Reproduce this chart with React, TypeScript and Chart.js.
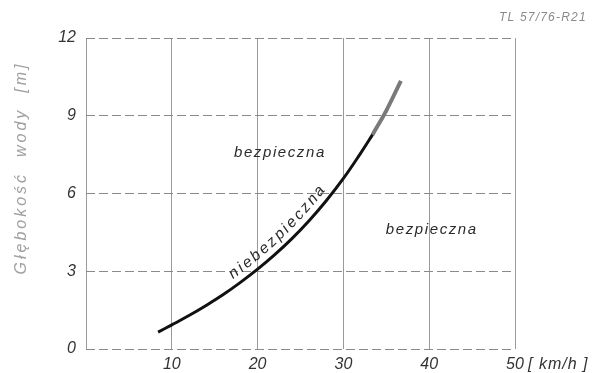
import React, { useEffect, useRef } from "react";
import { Chart, registerables } from "chart.js";

Chart.register(...registerables);

// Speed [km/h]
const curveSpeed = [8.4, 10, 12, 14, 16, 18, 20, 22, 24, 26, 28, 30, 32, 33.4];
// Water depth [m]
const curveDepth = [0.65, 0.93, 1.29, 1.68, 2.1, 2.57, 3.08, 3.64, 4.26, 4.95, 5.72, 6.58, 7.55, 8.27];
// Upper (grey) part of the curve
const upperSpeed = [33.4, 35, 36.7];
const upperDepth = [8.27, 9.2, 10.35];

const xTicks = [10, 20, 30, 40, 50];
const yTicks = [0, 3, 6, 9, 12];

const yTitle = "Głębokość  wody  [m]";
const unitLabel = "[ km/h ]";
const docRef = "TL 57/76-R21";
const regionLabels = [
  { text: "bezpieczna", x: 22.6, y: 7.56 },
  { text: "bezpieczna", x: 40.3, y: 4.6 },
];
const curveLabel = "niebezpieczna";
const curveLabelCenterX = 287; // pixel x of the label centre along the curve

const FONT = '"Liberation Sans", "DejaVu Sans", sans-serif';

const textPlugin = {
  id: "texts",
  afterDraw(chart: any) {
    const ctx = chart.ctx as CanvasRenderingContext2D;
    const xs = chart.scales.x;
    const ys = chart.scales.y;
    ctx.save();
    // region labels
    ctx.fillStyle = "#2a2a2a";
    ctx.font = `italic 15px ${FONT}`;
    (ctx as any).letterSpacing = "1.6px";
    ctx.textAlign = "center";
    ctx.textBaseline = "middle";
    for (const l of regionLabels) {
      ctx.fillText(l.text, xs.getPixelForValue(l.x), ys.getPixelForValue(l.y));
    }
    // label along the curve
    const pts = chart.getDatasetMeta(0).data.map((p: any) => ({ x: p.x, y: p.y }));
    const cum: number[] = [0];
    for (let i = 1; i < pts.length; i++) {
      cum.push(cum[i - 1] + Math.hypot(pts[i].x - pts[i - 1].x, pts[i].y - pts[i - 1].y));
    }
    const at = (s: number) => {
      let i = 1;
      while (i < pts.length - 1 && cum[i] < s) i++;
      const a = pts[i - 1], b = pts[i];
      const seg = cum[i] - cum[i - 1];
      const t = (s - cum[i - 1]) / seg;
      return { x: a.x + (b.x - a.x) * t, y: a.y + (b.y - a.y) * t, ang: Math.atan2(b.y - a.y, b.x - a.x) };
    };
    let sc = 0;
    for (let s = 0; s < cum[cum.length - 1]; s += 0.5) {
      if (at(s).x >= curveLabelCenterX) { sc = s; break; }
    }
    ctx.font = `italic 15.5px ${FONT}`;
    (ctx as any).letterSpacing = "0px";
    const spacing = 2.6;
    const widths = Array.from(curveLabel).map((c) => ctx.measureText(c).width + spacing);
    const total = widths.reduce((a, b) => a + b, 0);
    let s = sc - total / 2;
    ctx.textAlign = "center";
    ctx.textBaseline = "alphabetic";
    Array.from(curveLabel).forEach((c, i) => {
      const p = at(s + widths[i] / 2);
      const nx = Math.sin(p.ang), ny = -Math.cos(p.ang);
      ctx.save();
      ctx.translate(p.x + nx * 7, p.y + ny * 7);
      ctx.rotate(p.ang);
      ctx.fillText(c, 0, 0);
      ctx.restore();
      s += widths[i];
    });
    // unit label after "50"
    ctx.fillStyle = "#333";
    ctx.font = `italic 16px ${FONT}`;
    (ctx as any).letterSpacing = "1px";
    ctx.textAlign = "left";
    ctx.textBaseline = "middle";
    ctx.fillText(unitLabel, xs.getPixelForValue(50) + 13, 365);
    // y title
    ctx.save();
    ctx.fillStyle = "#a0a0a0";
    ctx.font = `italic 16px ${FONT}`;
    (ctx as any).letterSpacing = "3px";
    ctx.translate(22, 168);
    ctx.rotate(-Math.PI / 2);
    ctx.textAlign = "center";
    ctx.fillText(yTitle, 0, 0);
    ctx.restore();
    // document reference
    ctx.fillStyle = "#8a8a8a";
    ctx.font = `italic 12px ${FONT}`;
    (ctx as any).letterSpacing = "1.2px";
    ctx.textAlign = "left";
    ctx.fillText(docRef, 499, 18);
    ctx.restore();
  },
};

export default function App() {
  const ref = useRef<HTMLCanvasElement>(null);
  useEffect(() => {
    document.body.style.margin = "0";
    const chart = new Chart(ref.current!, {
      type: "line",
      data: {
        datasets: [
          {
            data: curveSpeed.map((x, i) => ({ x, y: curveDepth[i] })),
            borderColor: "#111",
            borderWidth: 3,
            pointRadius: 0,
            tension: 0.4,
          },
          {
            data: upperSpeed.map((x, i) => ({ x, y: upperDepth[i] })),
            borderColor: "#7a7a7a",
            borderWidth: 4,
            pointRadius: 0,
            tension: 0.4,
          },
        ],
      },
      options: {
        responsive: false,
        animation: false,
        layout: { padding: { left: 0, top: 38, right: 88, bottom: 0 } },
        plugins: { legend: { display: false }, tooltip: { enabled: false } },
        scales: {
          x: {
            type: "linear",
            min: 0,
            max: 50,
            afterFit: (s: any) => {
              s.height = 24;
            },
            afterBuildTicks: (s: any) => {
              s.ticks = [0, ...xTicks].map((v) => ({ value: v }));
            },
            ticks: {
              color: "#333",
              font: { family: FONT, size: 16, style: "italic" },
              padding: 6,
              maxRotation: 0,
              callback: (v: any) => (v === 0 ? "" : String(v)),
            },
            grid: {
              color: "#9a9a9a",
              lineWidth: 1,
              drawTicks: false,
            },
            border: { display: false },
          },
          y: {
            min: 0,
            max: 12,
            afterFit: (s: any) => {
              s.width = 86;
            },
            afterBuildTicks: (s: any) => {
              s.ticks = yTicks.map((v) => ({ value: v }));
            },
            ticks: {
              color: "#333",
              font: { family: FONT, size: 16, style: "italic" },
              padding: 10,
            },
            grid: {
              color: "#8a8a8a",
              lineWidth: 1,
              drawTicks: false,
            },
            border: { display: false, dash: [9, 4] },
          },
        },
      },
      plugins: [
        {
          id: "dashY",
          beforeDraw(chart: any) {
            chart.options.scales.y.grid.borderDash = [9, 4];
          },
        },
        textPlugin,
      ],
    } as any);
    return () => chart.destroy();
  }, []);
  return (
    <div style={{ position: "absolute", left: 0, top: 0, width: 603, height: 373, background: "#fff" }}>
      <canvas ref={ref} width={603} height={373} />
    </div>
  );
}
